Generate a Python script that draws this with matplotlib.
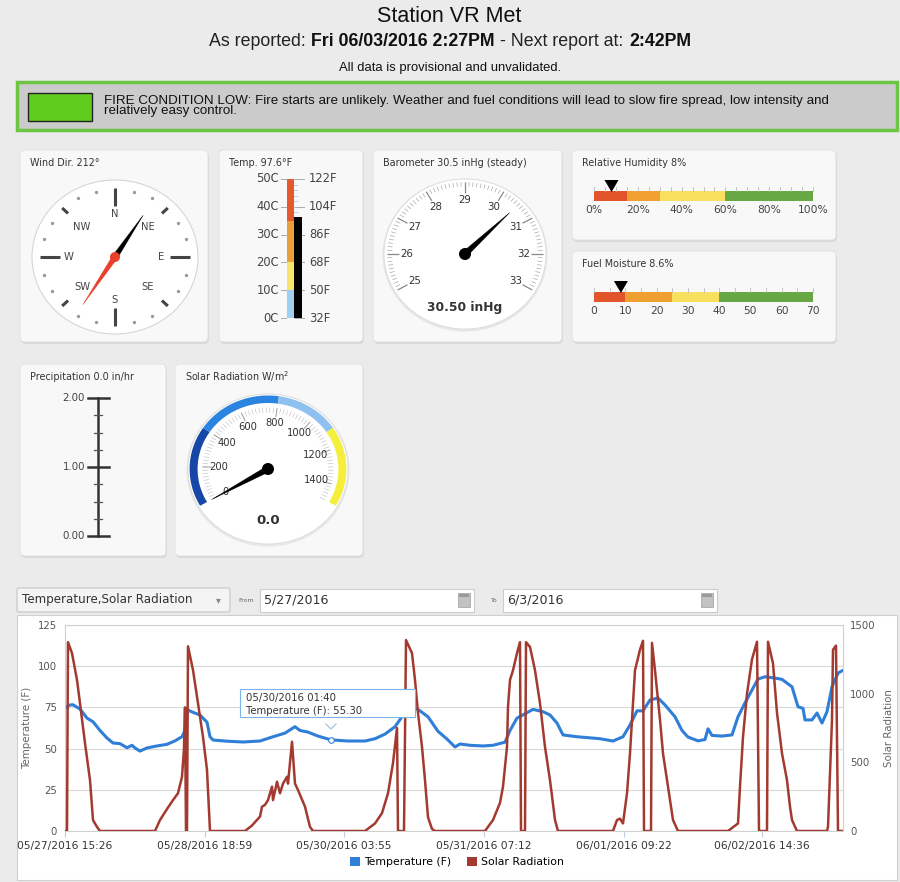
import numpy as np
import matplotlib
matplotlib.use('Agg')
import matplotlib.pyplot as plt
from matplotlib.patches import FancyBboxPatch, Rectangle, Ellipse, Polygon, Patch
from matplotlib.offsetbox import TextArea, HPacker, AnnotationBbox

W, H = 900, 882
HEAD = ['Liberation Sans', 'DejaVu Sans']

# ---- current readings
station = "Station VR Met"
reported = "Fri 06/03/2016 2:27PM"
next_report = "2:42PM"
fire_text = ["FIRE CONDITION LOW: Fire starts are unlikely. Weather and fuel conditions will lead to slow fire spread, low intensity and",
             "relatively easy control."]
wind_dir = 212
temp_f = 97.6
baro = 30.5
humidity = 8
fuel_moisture = 8.6
precip = 0.0
solar_now = 0.0

series_name = "Temperature,Solar Radiation"
date_from = "5/27/2016"
date_to = "6/3/2016"

# ---- history (sample index, value)
temp_idx = [0, 5, 8, 15, 22, 28, 35, 42, 48, 55, 62, 67, 70, 75, 82, 92, 102, 110, 117, 120,
            123, 128, 135, 142, 145, 148, 162, 178, 195, 207, 220, 230, 235, 243, 253, 266, 283, 300, 310, 320,
            330, 337, 347, 353, 363, 373, 382, 390, 395, 405, 418, 428, 440, 445, 452, 462, 468, 478, 485, 492,
            498, 512, 535, 548, 558, 565, 572, 578, 585, 593, 600, 610, 617, 623, 633, 640, 643, 647, 657, 667,
            673, 680, 687, 693, 700, 710, 717, 727, 733, 738, 740, 747, 752, 757, 762, 767, 773, 777]
temp_val = [74.6, 76.5, 76.6, 74.0, 68.5, 66.3, 61.0, 56.4, 53.4, 53.0, 50.5, 52.0, 50.4, 48.5, 50.4, 51.6, 52.6, 54.7, 57.2, 61.0,
            73.4, 72.0, 70.4, 66.0, 57.2, 55.2, 54.5, 54.0, 54.6, 57.0, 59.4, 63.3, 61.0, 60.0, 57.6, 55.3, 54.6, 54.6, 56.0, 58.8,
            63.3, 69.3, 74.5, 73.8, 69.3, 60.5, 55.8, 51.0, 52.8, 52.0, 51.6, 52.0, 53.9, 61.0, 68.5, 71.8, 73.8, 72.4, 70.4, 65.5,
            58.3, 57.2, 56.0, 54.6, 57.2, 64.3, 72.9, 72.9, 79.5, 80.7, 76.5, 69.3, 61.0, 57.0, 54.7, 55.5, 62.0, 58.0, 57.6, 58.3,
            69.3, 77.7, 85.6, 92.2, 93.6, 92.8, 92.0, 87.5, 75.4, 74.4, 67.4, 67.4, 71.6, 65.5, 72.4, 87.5, 95.8, 97.2]

solar_idx = [0, 2, 3, 7, 12, 15, 20, 25, 28, 32, 35, 90, 95, 102, 108, 113, 117, 119, 120, 121,
             122, 123, 128, 133, 138, 142, 145, 180, 187, 195, 197, 200, 203, 207, 208, 212, 215, 218, 222, 223,
             227, 230, 233, 240, 245, 248, 300, 310, 317, 323, 328, 332, 333, 339, 341, 347, 350, 353, 357, 360,
             363, 367, 370, 420, 428, 435, 438, 442, 443, 445, 448, 452, 455, 456, 460, 461, 465, 470, 475, 480,
             485, 490, 493, 548, 552, 555, 558, 562, 565, 568, 570, 575, 578, 579, 586, 587, 590, 595, 598, 603,
             608, 613, 663, 673, 675, 678, 682, 687, 692, 694, 702, 703, 708, 712, 717, 722, 725, 727, 732, 762,
             763, 767, 768, 771, 773, 777]
solar_val = [0, 0, 1375, 1295, 1100, 930, 640, 370, 80, 30, 0, 0, 80, 160, 225, 275, 395, 600, 900, 0,
             0, 1345, 1172, 930, 685, 444, 0, 0, 40, 105, 177, 190, 225, 323, 225, 359, 275, 345, 395, 345,
             650, 345, 298, 177, 30, 0, 0, 55, 130, 275, 495, 750, 0, 0, 1390, 1295, 1100, 860, 612, 370,
             100, 15, 0, 0, 80, 205, 323, 612, 905, 1100, 1170, 1295, 1375, 0, 0, 1375, 1340, 1170, 930, 612,
             370, 80, 0, 0, 80, 90, 55, 275, 565, 930, 1170, 1320, 1385, 0, 0, 1370, 1170, 810, 565, 323,
             80, 0, 0, 55, 323, 685, 1000, 1250, 1378, 0, 0, 1378, 1220, 860, 565, 370, 177, 80, 0, 0,
             30, 810, 1320, 1350, 0, 0]

tick_idx = [0, 140, 279, 419, 559, 697]
tick_labels = ["05/27/2016 15:26", "05/28/2016 18:59", "05/30/2016 03:55",
               "05/31/2016 07:12", "06/01/2016 09:22", "06/02/2016 14:36"]
tip_idx, tip_time, tip_temp = 266, "05/30/2016 01:40", 55.30

BLUE = '#2f7ed8'
RED = '#a33a30'

fig = plt.figure(figsize=(9, 8.82), dpi=100, facecolor='#ebebeb')
bg = fig.add_axes([0, 0, 1, 1], zorder=0)
bg.set_xlim(0, W)
bg.set_ylim(H, 0)
bg.axis('off')


def panel(x, y, w, h):
    bg.add_patch(FancyBboxPatch((x + 1, y + 2), w, h, boxstyle='round,pad=0,rounding_size=5',
                                fc='#d4d4d4', ec='none', alpha=0.8))
    bg.add_patch(FancyBboxPatch((x, y), w, h, boxstyle='round,pad=0,rounding_size=5',
                                fc='#f8f8f8', ec='#e0e0e0', lw=0.6))


def pt(cx, cy, rx, ry, b, r):
    a = np.radians(b)
    return cx + r * rx * np.sin(a), cy - r * ry * np.cos(a)


def radial(cx, cy, rx, ry, b, r0, r1, **kw):
    x0, y0 = pt(cx, cy, rx, ry, b, r0)
    x1, y1 = pt(cx, cy, rx, ry, b, r1)
    bg.plot([x0, x1], [y0, y1], solid_capstyle='butt', **kw)


def band(cx, cy, rx, ry, b0, b1, r0, r1, color):
    bs = np.linspace(b0, b1, 60)
    outer = [pt(cx, cy, rx, ry, b, r1) for b in bs]
    inner = [pt(cx, cy, rx, ry, b, r0) for b in bs[::-1]]
    bg.add_patch(Polygon(outer + inner, closed=True, fc=color, ec='none'))


def needle(cx, cy, rx, ry, b, length, half_w, color, z=5):
    tx, ty = pt(cx, cy, rx, ry, b, length)
    d = np.array([tx - cx, ty - cy])
    d = d / np.hypot(*d)
    n = np.array([-d[1], d[0]])
    pts = [(tx, ty), (cx + n[0] * half_w, cy + n[1] * half_w), (cx - n[0] * half_w, cy - n[1] * half_w)]
    bg.add_patch(Polygon(pts, closed=True, fc=color, ec=color, lw=0.3, zorder=z))


def title(x, y, s):
    bg.text(x + 10, y + 13, s, fontsize=6.9, color='#333', va='center')


# ---- header
bg.text(449, 17, station, ha='center', va='center', fontsize=15.5, family=HEAD, color='#111')
tp = dict(fontsize=12.8, family=HEAD, color='#222')
tb = dict(fontsize=12.8, family=HEAD, color='#111', weight='bold')
line = HPacker(children=[TextArea("As reported:", textprops=tp), TextArea(reported, textprops=tb),
                         TextArea("- Next report at:", textprops=tp), TextArea(next_report, textprops=tb)],
               pad=0, sep=4, align='baseline')
bg.add_artist(AnnotationBbox(line, (450, 41), xycoords='data', frameon=False, box_alignment=(0.5, 0.5), pad=0))
bg.text(450, 68, "All data is provisional and unvalidated.", ha='center', va='center',
        fontsize=9.4, family=HEAD, color='#111')

bg.add_patch(Rectangle((17, 82), 880, 48, fc='#cbcbcb', ec='#6cc644', lw=2.5))
bg.add_patch(Rectangle((28, 93), 64, 28, fc='#5fcd1d', ec='#222', lw=1))
bg.text(104, 106, "\n".join(fire_text), va='center', fontsize=9.6, family=HEAD, color='#111',
        linespacing=0.85)

# ---- panels
for box in [(20, 150, 188, 192), (219, 150, 144, 192), (373, 150, 189, 192), (572, 150, 264, 90),
            (572, 251, 264, 91), (20, 364, 146, 192), (175, 364, 188, 192)]:
    panel(*box)

# wind
title(20, 150, f"Wind Dir. {wind_dir}°")
cx, cy, rx, ry = 115, 257, 83, 77
bg.add_patch(Ellipse((cx, cy), 2 * rx, 2 * ry, fc='white', ec='#d6d6d6', lw=0.8))
for b in range(0, 360, 15):
    if b % 90 == 0:
        radial(cx, cy, rx, ry, b, 0.66, 0.9, color='#444', lw=2.2)
    elif b % 45 == 0:
        radial(cx, cy, rx, ry, b, 0.8, 0.9, color='#444', lw=2.2)
    else:
        x, y = pt(cx, cy, rx, ry, b, 0.88)
        bg.plot(x, y, 'o', ms=1.4, color='#999')
for b, lab in zip(range(0, 360, 45), ['N', 'NE', 'E', 'SE', 'S', 'SW', 'W', 'NW']):
    x, y = pt(cx, cy, rx, ry, b, 0.56)
    bg.text(x, y, lab, ha='center', va='center', fontsize=7.2, color='#444')
needle(cx, cy, rx, ry, (wind_dir + 180) % 360, 0.64, 2.7, 'black')
needle(cx, cy, rx, ry, wind_dir, 0.73, 2.7, '#e8402a')
bg.add_patch(Ellipse((cx, cy), 10, 10, fc='#e8402a', ec='none', zorder=6))

# temperature
title(219, 150, f"Temp. {temp_f}°F")


def c_to_y(c):
    return 318 - c * 2.78


for lo, hi, col in [(0, 10, '#9fd0ef'), (10, 20, '#f7e46b'), (20, 35, '#eb9f3a'), (35, 50, '#e35b2c')]:
    bg.add_patch(Rectangle((287, c_to_y(hi)), 7, c_to_y(lo) - c_to_y(hi), fc=col, ec='none'))
for c in range(0, 51, 2):
    bg.plot([294, 297], [c_to_y(c)] * 2, color='#bbb', lw=0.5)
for c in range(0, 51, 10):
    bg.plot([281, 286], [c_to_y(c)] * 2, color='#aaa', lw=0.7)
    bg.plot([295, 304], [c_to_y(c)] * 2, color='#aaa', lw=0.7)
    bg.text(279, c_to_y(c), f"{c}C", ha='right', va='center', fontsize=8.3, color='#444')
    bg.text(309, c_to_y(c), f"{round(c * 9 / 5 + 32)}F", ha='left', va='center', fontsize=8.3, color='#444')
temp_c = (temp_f - 32) * 5 / 9
bg.add_patch(Rectangle((294, c_to_y(temp_c)), 8, c_to_y(0) - c_to_y(temp_c), fc='black', ec='none', zorder=4))

# barometer
title(373, 150, f"Barometer {baro} inHg (steady)")
cx, cy, rx, ry = 465, 254, 81, 75
bg.add_patch(Ellipse((cx, cy + 1), 2 * rx + 3, 2 * ry + 3, fc='#e6e6e6', ec='none'))
bg.add_patch(Ellipse((cx, cy), 2 * rx, 2 * ry, fc='white', ec='#dcdcdc', lw=0.6))


def baro_b(v):
    return 240 + (v - 25) * 30


for k in range(0, 81):
    v = 25 + k * 0.1
    if k % 10 == 0:
        radial(cx, cy, rx, ry, baro_b(v), 0.82, 0.96, color='#888', lw=0.9)
    else:
        radial(cx, cy, rx, ry, baro_b(v), 0.9, 0.96, color='#aaa', lw=0.5)
for v in range(25, 34):
    x, y = pt(cx, cy, rx, ry, baro_b(v), 0.72)
    bg.text(x, y, str(v), ha='center', va='center', fontsize=7.4, color='#333')
needle(cx, cy, rx, ry, baro_b(baro), 0.78, 3, 'black')
bg.add_patch(Ellipse((cx, cy), 12, 12, fc='black', ec='none', zorder=6))
bg.text(cx, 307, f"{baro:.2f} inHg", ha='center', va='center', fontsize=8.8, weight='bold', color='#333')


# humidity and fuel bars
def hbar(y0, vmax, segs, step, labels, fmt, value):
    x0, x1 = 594, 813
    s = (x1 - x0) / vmax
    for lo, hi, col in segs:
        bg.add_patch(Rectangle((x0 + lo * s, y0), (hi - lo) * s, 10, fc=col, ec='none'))
    v = 0
    while v <= vmax + 1e-9:
        bg.plot([x0 + v * s] * 2, [y0 - 4, y0], color='#bbb', lw=0.6)
        v += step
    for v in labels:
        bg.text(x0 + v * s, y0 + 19, fmt.format(v), ha='center', va='center', fontsize=7.7, color='#444')
    xm = x0 + value * s
    bg.add_patch(Polygon([(xm, y0 + 1), (xm - 7, y0 - 11), (xm + 7, y0 - 11)], closed=True, fc='black', zorder=5))


seg_colors = ['#e2552a', '#f0a030', '#f8e05e', '#68a844']
title(572, 150, f"Relative Humidity {humidity}%")
hbar(191, 100, list(zip([0, 15, 30, 60], [15, 30, 60, 100], seg_colors)), 5,
     [0, 20, 40, 60, 80, 100], "{}%", humidity)
title(572, 251, f"Fuel Moisture {fuel_moisture}%")
hbar(292, 70, list(zip([0, 10, 25, 40], [10, 25, 40, 70], seg_colors)), 5,
     [0, 10, 20, 30, 40, 50, 60, 70], "{}", fuel_moisture)

# precipitation
title(20, 364, f"Precipitation {precip} in/hr")


def p_to_y(v):
    return 536 - v * 69


bg.plot([98, 98], [p_to_y(0), p_to_y(2)], color='#333', lw=1.8)
for k in range(9):
    v = k * 0.25
    if k % 4 == 0:
        bg.plot([88, 109], [p_to_y(v)] * 2, color='#333', lw=1.8)
        bg.text(85, p_to_y(v), f"{v:.2f}", ha='right', va='center', fontsize=7.4, color='#444')
    else:
        bg.plot([94, 102], [p_to_y(v)] * 2, color='#555', lw=0.9)

# solar radiation
title(175, 364, "Solar Radiation W/m$^2$")
cx, cy, rx, ry = 268, 469, 80, 75
bg.add_patch(Ellipse((cx, cy + 1), 2 * rx + 3, 2 * ry + 3, fc='#e6e6e6', ec='none'))
bg.add_patch(Ellipse((cx, cy), 2 * rx, 2 * ry, fc='white', ec='#dcdcdc', lw=0.6))


def sol_b(v):
    return 240 + v * 0.16


for lo, hi, col in [(0, 400, '#1747a6'), (400, 800, '#2a84e0'), (800, 1100, '#8fc1f0'), (1100, 1500, '#f4ee3c')]:
    band(cx, cy, rx, ry, sol_b(lo), sol_b(hi), 0.88, 0.98, col)
for v in range(0, 1501, 20):
    if v % 200 == 0:
        radial(cx, cy, rx, ry, sol_b(v), 0.7, 0.82, color='#999', lw=0.7)
    else:
        radial(cx, cy, rx, ry, sol_b(v), 0.75, 0.82, color='#bbb', lw=0.4)
for v in range(0, 1401, 200):
    x, y = pt(cx, cy, rx, ry, sol_b(v), 0.62)
    bg.text(x, y, str(v), ha='center', va='center', fontsize=7.2, color='#333')
needle(cx, cy, rx, ry, sol_b(solar_now), 0.8, 3, 'black')
bg.add_patch(Ellipse((cx, cy), 12, 12, fc='black', ec='none', zorder=6))
bg.text(cx, 521, f"{solar_now:.1f}", ha='center', va='center', fontsize=9.5, weight='bold', color='#333')

# ---- chart controls
bg.add_patch(FancyBboxPatch((17, 588), 213, 24, boxstyle='round,pad=0,rounding_size=2',
                            fc='#f4f4f4', ec='#c4c4c4', lw=0.8))
bg.text(22, 600, series_name, va='center', fontsize=8.6, color='#333')
bg.text(218, 600, '▾', ha='center', va='center', fontsize=7, color='#888')
for lx, lab, bx, txt in [(238, 'From', 260, date_from), (491, 'To', 503, date_to)]:
    bg.text(lx, 601, lab, va='center', fontsize=4.5, color='#666')
    bg.add_patch(Rectangle((bx, 589), 214, 23, fc='white', ec='#cccccc', lw=0.8))
    bg.text(bx + 4, 600, txt, va='center', fontsize=9.1, color='#333')
    bg.add_patch(Rectangle((bx + 198, 593), 12, 14, fc='#c2c2c2', ec='#a8a8a8', lw=0.6))
    bg.add_patch(Rectangle((bx + 199, 594), 10, 3, fc='#9a9a9a', ec='none'))

bg.add_patch(Rectangle((17, 615), 880, 265, fc='white', ec='#cfcfcf', lw=0.8))

# ---- history chart
ax = fig.add_axes([65 / W, 1 - 831 / H, 778 / W, 206 / H], zorder=2)
ax.set_facecolor('white')
ax.plot(temp_idx, temp_val, color=BLUE, lw=2.2)
ax.set_xlim(0, 778)
ax.set_ylim(0, 125)
ax.set_yticks([0, 25, 50, 75, 100, 125])
ax.set_xticks(tick_idx)
ax.set_xticklabels(tick_labels)
ax.yaxis.grid(True, color='#d8d8d8', lw=0.8)
ax.set_axisbelow(True)
for sp in ax.spines.values():
    sp.set_color('#d0d0d0')
    sp.set_linewidth(0.8)
ax.tick_params(axis='y', length=0, labelsize=7.3, labelcolor='#555', pad=6)
ax.tick_params(axis='x', length=4, color='#c0d0e0', labelsize=7.7, labelcolor='#333', pad=3)
ax.set_ylabel('Temperature (F)', fontsize=7.4, color='#666', labelpad=4)

ax2 = ax.twinx()
ax2.set_zorder(3)
ax2.patch.set_visible(False)
ax2.plot(solar_idx, solar_val, color=RED, lw=1.8)
ax2.set_ylim(0, 1500)
ax2.set_yticks([0, 500, 1000, 1500])
for sp in ax2.spines.values():
    sp.set_visible(False)
ax2.tick_params(axis='y', length=0, labelsize=7.3, labelcolor='#555', pad=5)
ax2.set_ylabel('Solar Radiation', fontsize=7.4, color='#666', labelpad=6)

# tooltip
ax2.add_patch(Rectangle((tip_idx - 91, 69.2), 175, 17.0, transform=ax.transData,
                        fc='white', ec='#7cb5ec', lw=0.8, zorder=6))
ax2.text(tip_idx - 85, 80.7, tip_time, transform=ax.transData, va='center', fontsize=7.3, color='#333', zorder=7)
ax2.text(tip_idx - 85, 72.8, f"Temperature (F): {tip_temp:.2f}", transform=ax.transData,
         va='center', fontsize=7.3, color='#333', zorder=7)
ax2.plot([tip_idx - 5, tip_idx, tip_idx + 5], [64.9, 61.9, 64.9], transform=ax.transData,
         color='#a8c0d8', lw=0.9, zorder=7)
ax2.plot([tip_idx], [tip_temp], 'o', transform=ax.transData, ms=4, mfc='white', mec=BLUE, mew=0.8, zorder=7)

fig.legend(handles=[Patch(fc=BLUE), Patch(fc=RED)], labels=['Temperature (F)', 'Solar Radiation'],
           loc='center', bbox_to_anchor=(457 / W, 1 - 862 / H), ncol=2, frameon=False, fontsize=7.8,
           handlelength=0.9, handleheight=0.9, columnspacing=1.5, handletextpad=0.4)

fig.savefig('out.png', dpi=100, facecolor=fig.get_facecolor())
